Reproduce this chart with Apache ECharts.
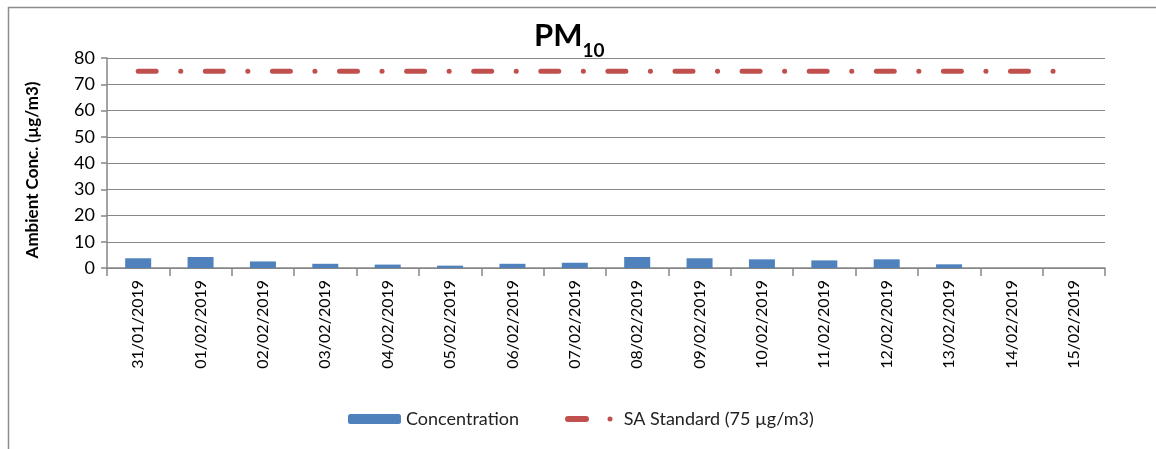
<!DOCTYPE html>
<html><head><meta charset="utf-8">
<script src="https://cdn.jsdelivr.net/npm/echarts@6/dist/echarts.min.js"></script>
<style>html,body{margin:0;padding:0;background:#fff}#c{width:1156px;height:449px}</style>
</head><body><div id="c"></div>
<script>
const categories = ['31/01/2019','01/02/2019','02/02/2019','03/02/2019','04/02/2019','05/02/2019','06/02/2019','07/02/2019','08/02/2019','09/02/2019','10/02/2019','11/02/2019','12/02/2019','13/02/2019','14/02/2019','15/02/2019'];
const concentration = [3.7, 4.2, 2.5, 1.6, 1.3, 0.9, 1.6, 2.0, 4.2, 3.7, 3.3, 2.9, 3.3, 1.4, null, null];
const saStandard = [75,75,75,75,75,75,75,75,75,75,75,75,75,75,75,75];
const yTicks = [0,10,20,30,40,50,60,70,80];

const FONT = 'Lato, "Noto Sans", sans-serif';
const dashDotIcon = 'path://M3,0 H21 A3,3 0 0 1 21,6 H3 A3,3 0 0 1 3,0 Z M45,0.5 A2.5,2.5 0 1 1 45,5.5 A2.5,2.5 0 1 1 45,0.5 Z';
const chart = echarts.init(document.getElementById('c'), null, {renderer:'canvas'});
chart.setOption({
  animation: false,
  backgroundColor: '#fff',
  title: {
    text: '{a|PM}{b|10}',
    left: 529, top: 10,
    textStyle: { rich: {
      a: {fontFamily: FONT, fontSize: 31, fontWeight: 'bold', color: '#000', verticalAlign: 'bottom', lineHeight: 36},
      b: {fontFamily: FONT, fontSize: 19, fontWeight: 'bold', color: '#000', verticalAlign: 'bottom', lineHeight: 26, padding: [0,0,-9,0]}
    }}
  },
  graphic: [{type:'rect', left: 6, top: 5, shape:{width: 1170, height: 470}, style:{fill:'none', stroke:'#8c8c8c', lineWidth:1.5}, silent:true}],
  legend: [
    {data:['Concentration'], left: 343, top: 405, itemWidth: 53, itemHeight: 10, itemGap: 0,
     textStyle:{fontFamily: FONT, fontSize: 18, color:'#222'}, selectedMode:false},
    {data:[{name:'SA Standard (75 µg/m3)', icon: dashDotIcon}], left: 560, top: 405, itemWidth: 48, itemHeight: 6,
     itemStyle:{color:'#C0504D'},
     textStyle:{fontFamily: FONT, fontSize: 18, color:'#222', padding:[0,0,0,6]}, selectedMode:false}
  ],
  grid: {left: 107, right: 51, top: 58, bottom: 181, containLabel:false},
  xAxis: {
    type: 'category', data: categories, boundaryGap: true,
    axisLine: {lineStyle:{color:'#868686', width:1.5}},
    axisTick: {show:true, length: 8, lineStyle:{color:'#868686', width:1.5}},
    axisLabel: {rotate: 90, fontFamily: FONT, fontSize: 16, color:'#000', margin: 12}
  },
  yAxis: {
    type: 'value', min: 0, max: 80, interval: 10,
    name: 'Ambient Conc. (µg/m3)', nameLocation: 'middle', nameGap: 66,
    nameTextStyle: {fontFamily: FONT, fontSize: 17, fontWeight:'bold', color:'#000', padding:[0,14,0,0]},
    axisLine: {show:true, lineStyle:{color:'#868686', width:1.5}},
    axisTick: {show:true, length: 6, lineStyle:{color:'#868686', width:1.5}},
    axisLabel: {fontFamily: FONT, fontSize: 18, color:'#000', margin: 12,
      formatter: v => yTicks.includes(v) ? String(v) : ''},
    splitLine: {show:true, lineStyle:{color:'#868686', width:1}}
  },
  series: [
    {name:'Concentration', type:'bar', data: concentration, barWidth: 26,
     itemStyle:{color:'#4F81BD'}},
    {name:'SA Standard (75 µg/m3)', type:'line', data: saStandard, symbol:'none', showSymbol:false,
     itemStyle:{color:'#C0504D'},
     lineStyle:{color:'#C0504D', width:5, type:[18, 24.5, 0.1, 24.5], cap:'round'}}
  ]
});
</script></body></html>
